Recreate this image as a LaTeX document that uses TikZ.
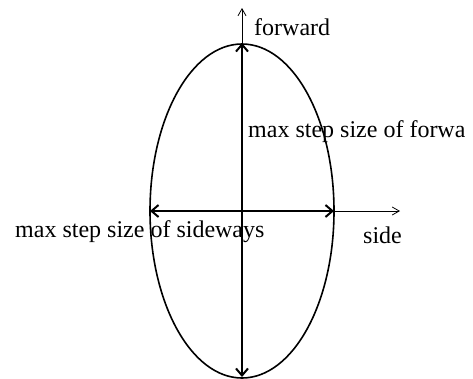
\documentclass[tikz,border=0pt]{standalone}
\usepackage{fontspec}
\setmainfont{Liberation Serif}
\usetikzlibrary{arrows.meta}
\begin{document}
\begin{tikzpicture}[x=1pt,y=-1pt,
  axis/.style={line width=0.8pt,-{Straight Barb[length=7pt,width=8pt]}},
  span/.style={line width=2pt,{Straight Barb[length=7pt,width=12pt]}-{Straight Barb[length=7pt,width=12pt]}},
  lbl/.style={anchor=base west,inner sep=0pt,font=\fontsize{24}{28}\selectfont}]
\useasboundingbox (0,0) rectangle (473,378);
\clip (0,0) rectangle (473,378);
\coordinate (o) at (242,211);
\coordinate (top) at (242,43);
\coordinate (bot) at (242,377);
\coordinate (lft) at (150,211);
\coordinate (rgt) at (334,211);
\coordinate (yend) at (242,8);
\coordinate (xend) at (400,211);
\draw[line width=1.6pt] (o) ellipse [x radius=92, y radius=167];
\draw[axis] (o) -- (yend);
\draw[axis] (o) -- (xend);
\draw[span] (bot) -- (top);
\draw[span] (lft) -- (rgt);
\node[lbl] (fw) at (254,35) {forward};
\begin{scope}
\clip (240,100) rectangle (464,160);
\node[lbl] (fmax) at (248,137) {max step size of forward};
\end{scope}
\node[lbl] (smax) at (15,237) {max step size of sideways};
\node[lbl] (sd) at (363,243) {side};
\end{tikzpicture}
\end{document}
